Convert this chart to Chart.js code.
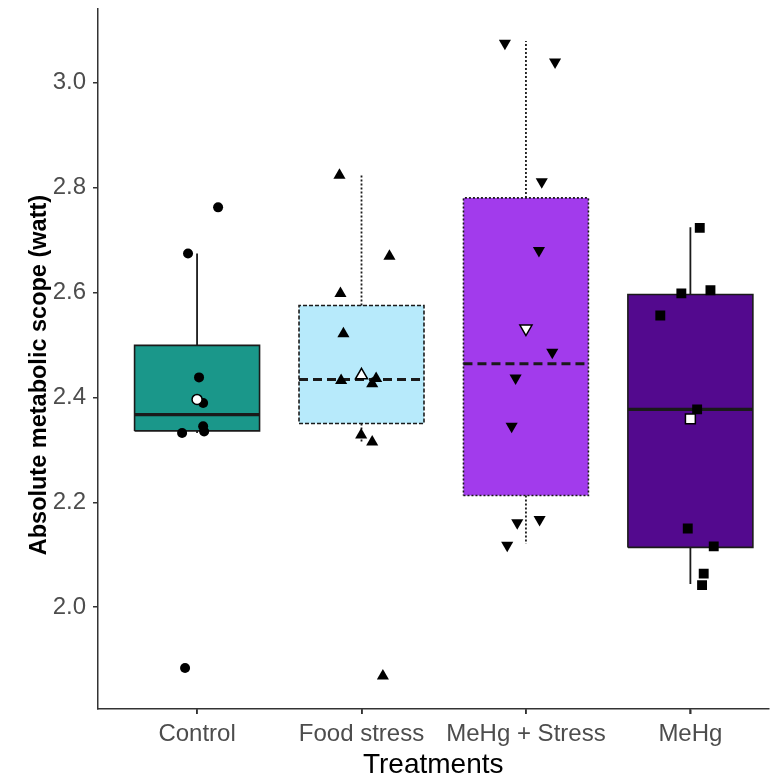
<!DOCTYPE html>
<html>
<head>
<meta charset="utf-8">
<script src="https://cdn.jsdelivr.net/npm/chart.js@4.4.1/dist/chart.umd.min.js"></script>
<style>
  html, body { margin: 0; padding: 0; background: #fff; }
  #wrap { width: 777px; height: 779px; }
</style>
</head>
<body>
<div id="wrap"><canvas id="chart"></canvas></div>
<script>
const treatments = ['Control', 'Food stress', 'MeHg + Stress', 'MeHg'];

// box summaries per treatment (watt)
const lowerWhisker = [2.332, 2.315, 2.121, 2.044];
const q1 = [2.336, 2.350, 2.213, 2.114];
const median = [2.367, 2.434, 2.464, 2.377];
const q3 = [2.499, 2.575, 2.780, 2.596];
const upperWhisker = [2.674, 2.823, 3.079, 2.724];
const means = [2.396, 2.442, 2.531, 2.359];

// individual fish, x = jittered group position
const controlX = [1.128, 0.945, 1.012, 1.037, 1.037, 0.909, 1.043, 0.927];
const controlY = [2.762, 2.674, 2.438, 2.389, 2.345, 2.332, 2.335, 1.884];
const foodX = [1.866, 2.170, 1.872, 1.890, 1.876, 2.089, 2.065, 1.998, 2.065, 2.130];
const foodY = [2.823, 2.669, 2.598, 2.521, 2.432, 2.436, 2.426, 2.328, 2.315, 1.869];
const mixX = [2.872, 3.177, 3.096, 3.079, 3.160, 2.937, 2.913, 2.947, 3.083, 2.886];
const mixY = [3.075, 3.039, 2.811, 2.680, 2.486, 2.437, 2.345, 2.161, 2.167, 2.118];
const mehgX = [4.057, 3.945, 4.122, 3.817, 4.041, 3.984, 4.142, 4.081, 4.071];
const mehgY = [2.723, 2.598, 2.604, 2.556, 2.377, 2.150, 2.116, 2.064, 2.042];

const yTicks = [2.0, 2.2, 2.4, 2.6, 2.8, 3.0];

// styling
const fills = ['#1a978a', '#b7eafb', '#a23bec', '#53098e'];
const shapes = ['circle', 'triangle', 'triangle', 'rect'];
const rotations = [0, 0, 180, 0];
const sizes = [5, 7, 7, 7];
const outlineDash = [[], [4, 2], [2, 2], []];
const whiskerDash = [[], [2, 2], [2, 2], []];
const medianDash = [[], [9, 5], [9, 5], []];
const boxHalf = 0.38;
const ink = '#1a1a1a';
const font = '"Liberation Sans", Arial, sans-serif';

const groupX = [controlX, foodX, mixX, mehgX];
const groupY = [controlY, foodY, mixY, mehgY];

const datasets = [];

datasets.push({
  type: 'bar',
  data: treatments.map((t, i) => ({ x: i + 1, y: [q1[i], q3[i]] })),
  backgroundColor: fills,
  borderWidth: 0,
  barPercentage: 0.76,
  categoryPercentage: 1,
  order: 5
});

function line(points, dash, width) {
  return {
    type: 'line', data: points, borderColor: ink, borderWidth: width,
    borderDash: dash, pointRadius: 0, fill: false, tension: 0, order: 3
  };
}

treatments.forEach((t, i) => {
  const c = i + 1;
  datasets.push(line([
    { x: c - boxHalf, y: q1[i] }, { x: c + boxHalf, y: q1[i] },
    { x: c + boxHalf, y: q3[i] }, { x: c - boxHalf, y: q3[i] },
    { x: c - boxHalf, y: q1[i] }
  ], outlineDash[i], 1.6));
  datasets.push(line([{ x: c, y: q3[i] }, { x: c, y: upperWhisker[i] }], whiskerDash[i], 1.8));
  datasets.push(line([{ x: c, y: q1[i] }, { x: c, y: lowerWhisker[i] }], whiskerDash[i], 1.8));
  datasets.push(line([{ x: c - boxHalf, y: median[i] }, { x: c + boxHalf, y: median[i] }], medianDash[i], 3.2));

  datasets.push({
    type: 'scatter',
    data: groupX[i].map((x, k) => ({ x, y: groupY[i][k] })),
    pointStyle: shapes[i], rotation: rotations[i], radius: sizes[i],
    backgroundColor: '#000', borderColor: '#000', borderWidth: 0, order: 1
  });
  datasets.push({
    type: 'scatter',
    data: [{ x: c, y: means[i] }],
    pointStyle: shapes[i], rotation: rotations[i], radius: sizes[i],
    backgroundColor: '#fff', borderColor: '#000', borderWidth: 1.5, order: 0
  });
});

// small tick marks under the category axis
const xTickMarks = {
  id: 'xTickMarks',
  afterDraw(chart) {
    const s = chart.scales.x;
    const ctx = chart.ctx;
    ctx.save();
    ctx.strokeStyle = '#333';
    ctx.lineWidth = 1.5;
    s.ticks.forEach(t => {
      const px = Math.round(s.getPixelForValue(t.value));
      ctx.beginPath();
      ctx.moveTo(px, s.top);
      ctx.lineTo(px, s.top + 5);
      ctx.stroke();
    });
    ctx.restore();
  }
};

const tickFont = { family: font, size: 24 };

new Chart(document.getElementById('chart'), {
  type: 'bar',
  data: { datasets },
  plugins: [xTickMarks],
  options: {
    responsive: true,
    maintainAspectRatio: false,
    animation: false,
    layout: { padding: { top: 8, right: 0, left: 0, bottom: 0 } },
    plugins: { legend: { display: false }, tooltip: { enabled: false } },
    scales: {
      x: {
        type: 'linear',
        offset: false,
        min: 0.3976,
        max: 4.475,
        afterBuildTicks: s => { s.ticks = treatments.map((t, i) => ({ value: i + 1 })); },
        afterFit: s => { s.height = 70; s.paddingLeft = 0; s.paddingRight = 0; },
        ticks: {
          callback: v => treatments[v - 1],
          color: '#4d4d4d', font: tickFont, padding: 6, maxRotation: 0, autoSkip: false
        },
        grid: { offset: false, drawOnChartArea: false, drawTicks: true, tickLength: 5, color: '#333', lineWidth: 1.5 },
        border: { display: true, color: '#333', width: 1.5 },
        title: {
          display: true, text: 'Treatments', color: '#000',
          font: { family: font, size: 28, lineHeight: 1.0 },
          padding: { top: 0, bottom: 0 }
        }
      },
      y: {
        min: 1.806,
        max: 3.141,
        afterBuildTicks: s => { s.ticks = yTicks.map(v => ({ value: v })); },
        afterFit: s => { s.width = 98; s.paddingTop = 0; s.paddingBottom = 0; },
        ticks: {
          callback: v => v.toFixed(1),
          color: '#4d4d4d', font: tickFont, padding: 7
        },
        grid: { drawOnChartArea: false, drawTicks: true, tickLength: 5, color: '#333', lineWidth: 1.5 },
        border: { display: true, color: '#333', width: 1.5 },
        title: {
          display: true, text: 'Absolute metabolic scope (watt)\u00a0\u00a0\u00a0\u00a0\u00a0', color: '#000',
          font: { family: font, size: 23.5, weight: 'bold', lineHeight: 1.2 },
          padding: { top: 25, bottom: 0 }
        }
      }
    }
  }
});
</script>
</body>
</html>
